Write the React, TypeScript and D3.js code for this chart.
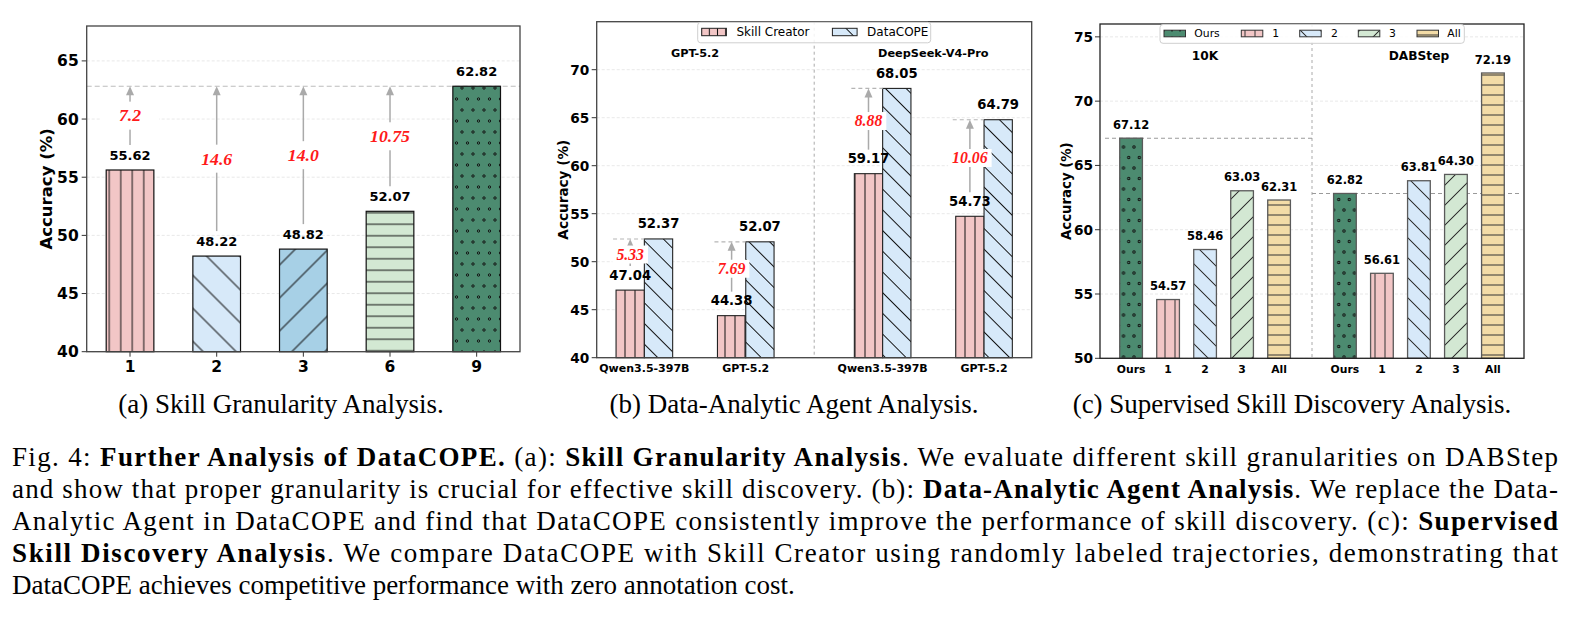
import React from 'react';
import * as d3 from 'd3';

// (a) skill granularity
const granularityLevels = ['1', '2', '3', '6', '9'];
const granularityAcc = [55.62, 48.22, 48.82, 52.07, 62.82];
const granularityGain = ['7.2', '14.6', '14.0', '10.75', ''];
const granularityTicks = [40, 45, 50, 55, 60, 65];

// (b) data-analytic agent
const agentGroups = ['GPT-5.2', 'DeepSeek-V4-Pro'];
const agentModels = ['Qwen3.5-397B', 'GPT-5.2', 'Qwen3.5-397B', 'GPT-5.2'];
const skillCreatorAcc = [47.04, 44.38, 59.17, 54.73];
const dataCopeAcc = [52.37, 52.07, 68.05, 64.79];
const agentGain = ['5.33', '7.69', '8.88', '10.06'];
const agentTicks = [40, 45, 50, 55, 60, 65, 70];
const agentSeries = ['Skill Creator', 'DataCOPE'];

// (c) supervised skill discovery
const supervisedGroups = ['10K', 'DABStep'];
const supervisedVariants = ['Ours', '1', '2', '3', 'All'];
const acc10K = [67.12, 54.57, 58.46, 63.03, 62.31];
const accDABStep = [62.82, 56.61, 63.81, 64.30, 72.19];
const supervisedTicks = [50, 55, 60, 65, 70, 75];

const subCaptions = [
  '(a) Skill Granularity Analysis.',
  '(b) Data-Analytic Agent Analysis.',
  '(c) Supervised Skill Discovery Analysis.',
];

// caption lines: [text, bold]
const captionLines: [string, boolean][][] = [
  [['Fig. 4: ', false], ['Further Analysis of DataCOPE.', true], [' (a): ', false], ['Skill Granularity Analysis', true], ['. We evaluate different skill granularities on DABStep', false]],
  [['and show that proper granularity is crucial for effective skill discovery. (b): ', false], ['Data-Analytic Agent Analysis', true], ['. We replace the Data-', false]],
  [['Analytic Agent in DataCOPE and find that DataCOPE consistently improve the performance of skill discovery. (c): ', false], ['Supervised', true]],
  [['Skill Discovery Analysis', true], ['. We compare DataCOPE with Skill Creator using randomly labeled trajectories, demonstrating that', false]],
  [['DataCOPE achieves competitive performance with zero annotation cost.', false]],
];

const SANS = 'DejaVu Sans, sans-serif';
const SERIF = 'Liberation Serif, Times New Roman, serif';

const PINK = '#f2c6c6';
const LIGHT_BLUE = '#d7e9f9';
const MID_BLUE = '#a7d0e6';
const LIGHT_GREEN = '#d3e8d3';
const DARK_GREEN = '#4c8b70';
const YELLOW = '#f3dca7';
const GAIN_RED = '#ff1a1a';
const ARROW_GRAY = '#aaaaaa';

type HatchKind = 'v' | 'h' | 'b' | 'f' | 'o';

const Patterns = ({ id, line, diag, dot, ink }: { id: string; line: number; diag: number; dot: number; ink: string }) => {
  const d = diag / Math.SQRT2;
  return (
    <>
      <pattern id={`${id}-v`} patternUnits="userSpaceOnUse" width={line} height={line}>
        <line x1={line / 2} y1={0} x2={line / 2} y2={line} stroke={ink} strokeWidth={1} />
      </pattern>
      <pattern id={`${id}-h`} patternUnits="userSpaceOnUse" width={line} height={line}>
        <line x1={0} y1={line / 2} x2={line} y2={line / 2} stroke={ink} strokeWidth={1} />
      </pattern>
      <pattern id={`${id}-b`} patternUnits="userSpaceOnUse" width={d} height={d} patternTransform="rotate(-45)">
        <line x1={d / 2} y1={-1} x2={d / 2} y2={d + 1} stroke={ink} strokeWidth={1} />
      </pattern>
      <pattern id={`${id}-f`} patternUnits="userSpaceOnUse" width={d} height={d} patternTransform="rotate(45)">
        <line x1={d / 2} y1={-1} x2={d / 2} y2={d + 1} stroke={ink} strokeWidth={1} />
      </pattern>
      <pattern id={`${id}-o`} patternUnits="userSpaceOnUse" width={dot} height={dot * 2}>
        {[[0, 0], [dot, 0], [dot / 2, dot], [0, dot * 2], [dot, dot * 2]].map(([cx, cy], i) => (
          <circle key={i} cx={cx} cy={cy} r={1.2} fill="none" stroke="#111" strokeWidth={1} />
        ))}
      </pattern>
    </>
  );
};

const Bar = ({ x, y, w, h, fill, hatch, edge, sw }: any) => (
  <g>
    <rect x={x} y={y} width={w} height={h} fill={fill} />
    <rect x={x} y={y} width={w} height={h} fill={`url(#${hatch})`} stroke={edge} strokeWidth={sw} />
  </g>
);

const Arrow = ({ x, y1, y2 }: { x: number; y1: number; y2: number }) => (
  <g>
    <line x1={x} y1={y1} x2={x} y2={y2 + 7} stroke={ARROW_GRAY} strokeWidth={1.5} />
    <path d={`M${x},${y2} L${x - 4},${y2 + 9} L${x + 4},${y2 + 9} Z`} fill={ARROW_GRAY} />
  </g>
);

const YAxis = ({ left, right, y, ticks, fs, gap }: any) => (
  <g>
    {ticks.map((t: number) => (
      <g key={t}>
        <line x1={left} x2={right} y1={y(t)} y2={y(t)} stroke="#e2e2e2" strokeWidth={0.8} strokeDasharray="3,2" />
        <line x1={left - 5} x2={left} y1={y(t)} y2={y(t)} stroke="#333" strokeWidth={1} />
        <text x={left - gap} y={y(t)} dy="0.36em" textAnchor="end" fontFamily={SANS} fontWeight="bold" fontSize={fs}>
          {t}
        </text>
      </g>
    ))}
  </g>
);

const YLabel = ({ x, y, fs }: any) => (
  <text transform={`translate(${x},${y}) rotate(-90)`} dy="0.36em" textAnchor="middle" fontFamily={SANS} fontWeight="bold" fontSize={fs}>
    Accuracy (%)
  </text>
);

const ChartA = () => {
  const box = { left: 86.7, right: 520, top: 26, bottom: 351.7 };
  const y = d3.scaleLinear().domain([40, 68]).range([box.bottom, box.top]);
  const x = d3.scaleBand().domain(granularityLevels).range([box.left, box.right]).paddingInner(0.45).paddingOuter(0.225);
  const fills = [PINK, LIGHT_BLUE, MID_BLUE, LIGHT_GREEN, DARK_GREEN];
  const hatches: HatchKind[] = ['v', 'b', 'f', 'h', 'o'];
  const best = d3.max(granularityAcc) as number;
  const bw = x.bandwidth();
  return (
    <g>
      <defs>
        <Patterns id="pa" line={11.5} diag={33} dot={11} ink="#111" />
      </defs>
      <YAxis left={box.left} right={box.right} y={y} ticks={granularityTicks} fs={15.5} gap={8} />
      <line x1={box.left} x2={box.right} y1={y(best)} y2={y(best)} stroke="#bdbdbd" strokeWidth={1.2} strokeDasharray="5,3" />
      {granularityLevels.map((g, i) => {
        const cx = (x(g) as number) + bw / 2;
        const v = granularityAcc[i];
        return (
          <g key={g}>
            <Bar x={x(g)} y={y(v)} w={bw} h={box.bottom - y(v)} fill={fills[i]} hatch={`pa-${hatches[i]}`} edge="#111" sw={1.2} />
            <text x={cx} y={y(v) - 14.5} dy="0.36em" textAnchor="middle" fontFamily={SANS} fontWeight="bold" fontSize={13}>
              {v.toFixed(2)}
            </text>
            <line x1={cx} x2={cx} y1={box.bottom} y2={box.bottom + 5} stroke="#333" />
            <text x={cx} y={366} dy="0.36em" textAnchor="middle" fontFamily={SANS} fontWeight="bold" fontSize={15.5}>
              {g}
            </text>
          </g>
        );
      })}
      {granularityLevels.map((g, i) => {
        if (!granularityGain[i]) return null;
        const cx = (x(g) as number) + bw / 2;
        const y1 = y(granularityAcc[i]) - 25;
        const y2 = y(best);
        const mid = (y1 + y2) / 2;
        const tw = granularityGain[i].length * 8.6 + 32;
        return (
          <g key={`gain-${g}`}>
            <Arrow x={cx} y1={y1} y2={y2} />
            <rect x={cx - tw / 2} y={mid - 14} width={tw} height={28} fill="#fff" />
            <text x={cx} y={mid} dy="0.33em" textAnchor="middle" fontFamily={SERIF} fontStyle="italic" fontWeight="bold" fontSize={17.7} fill={GAIN_RED}>
              {granularityGain[i]}
            </text>
          </g>
        );
      })}
      <rect x={box.left} y={box.top} width={box.right - box.left} height={box.bottom - box.top} fill="none" stroke="#444" strokeWidth={1.3} />
      <YLabel x={46} y={(box.top + box.bottom) / 2} fs={16.5} />
    </g>
  );
};

const ChartB = () => {
  const box = { left: 596.7, right: 1031.7, top: 21.7, bottom: 357.7 };
  const gap = 2.35;
  const y = d3.scaleLinear().domain([40, 75]).range([box.bottom, box.top]);
  const x = d3.scaleLinear().domain([-0.47, 1 + gap + 0.47]).range([box.left, box.right]);
  const bw = 28.3;
  const pos = agentModels.map((_, k) => Math.floor(k / 2) * gap + (k % 2));
  const sep = x((1 + gap) / 2);
  const legW = 233;
  const legX = sep - legW / 2;
  return (
    <g>
      <defs>
        <Patterns id="pb" line={10} diag={20.7} dot={10} ink="#111" />
        <pattern id="pb-lv" patternUnits="userSpaceOnUse" width={8.2} height={8}>
          <line x1={4.1} y1={0} x2={4.1} y2={8} stroke="#111" strokeWidth={1} />
        </pattern>
      </defs>
      <YAxis left={box.left} right={box.right} y={y} ticks={agentTicks} fs={13.7} gap={7.5} />
      <line x1={sep} x2={sep} y1={box.top} y2={box.bottom} stroke="#aaa" strokeWidth={1} strokeDasharray="3,3" />
      {pos.map((p, k) => {
        const cx = x(p);
        const sc = skillCreatorAcc[k];
        const dc = dataCopeAcc[k];
        return (
          <g key={k}>
            <Bar x={cx - bw} y={y(sc)} w={bw} h={box.bottom - y(sc)} fill={PINK} hatch="pb-v" edge="#222" sw={1.1} />
            <Bar x={cx} y={y(dc)} w={bw} h={box.bottom - y(dc)} fill={LIGHT_BLUE} hatch="pb-b" edge="#222" sw={1.1} />
            <line x1={cx - bw - 3} x2={cx} y1={y(dc)} y2={y(dc)} stroke="#b5b5b5" strokeWidth={1.1} strokeDasharray="4,3" />
            <text x={cx} y={368.3} dy="0.36em" textAnchor="middle" fontFamily={SANS} fontWeight="bold" fontSize={11}>
              {agentModels[k]}
            </text>
          </g>
        );
      })}
      {pos.map((p, k) => {
        const cx = x(p);
        const sc = skillCreatorAcc[k];
        const dc = dataCopeAcc[k];
        const y1 = y(sc) - 24;
        const y2 = y(dc);
        const mid = (y1 + y2) / 2 + 2;
        const tw = agentGain[k].length * 7.9 + 4;
        return (
          <g key={`g-${k}`}>
            <Arrow x={cx - bw / 2} y1={y1} y2={y2} />
            <rect x={cx - bw / 2 - tw / 2} y={mid - 9} width={tw} height={18} fill="#fff" />
            <text x={cx - bw / 2} y={mid} dy="0.33em" textAnchor="middle" fontFamily={SERIF} fontStyle="italic" fontWeight="bold" fontSize={15.8} fill={GAIN_RED}>
              {agentGain[k]}
            </text>
            <text x={cx - bw / 2} y={y(sc) - 15} dy="0.36em" textAnchor="middle" fontFamily={SANS} fontWeight="bold" fontSize={13.2}>
              {sc.toFixed(2)}
            </text>
            <text x={cx + bw / 2} y={y(dc) - 15.5} dy="0.36em" textAnchor="middle" fontFamily={SANS} fontWeight="bold" fontSize={13.2}>
              {dc.toFixed(2)}
            </text>
          </g>
        );
      })}
      {agentGroups.map((g, i) => (
        <text key={g} x={x(i * gap + 0.5)} y={52.7} dy="0.36em" textAnchor="middle" fontFamily={SANS} fontWeight="bold" fontSize={11.3}>
          {g}
        </text>
      ))}
      <rect x={box.left} y={box.top} width={box.right - box.left} height={box.bottom - box.top} fill="none" stroke="#444" strokeWidth={1.3} />
      <g>
        <rect x={legX} y={22.3} width={legW} height={20.5} rx={3} fill="#fff" fillOpacity={0.85} stroke="#cfcfcf" strokeWidth={1} />
        {agentSeries.map((s, i) => {
          const px = legX + 4 + i * 130.7;
          return (
            <g key={s}>
              <Bar x={px} y={28.3} w={24.7} h={7.4} fill={i === 0 ? PINK : LIGHT_BLUE} hatch={i === 0 ? 'pb-lv' : 'pb-b'} edge="#222" sw={1} />
              <text x={px + 34.7} y={32} dy="0.36em" fontFamily={SANS} fontSize={12}>
                {s}
              </text>
            </g>
          );
        })}
      </g>
      <YLabel x={562.7} y={(box.top + box.bottom) / 2} fs={13.6} />
    </g>
  );
};

const ChartC = () => {
  const box = { left: 1100, right: 1524, top: 24, bottom: 358.3 };
  const gap = 5.78;
  const n = supervisedVariants.length;
  const y = d3.scaleLinear().domain([50, 76]).range([box.bottom, box.top]);
  const x = d3.scaleLinear().domain([-0.84, n - 1 + gap + 0.84]).range([box.left, box.right]);
  const bw = 22.7;
  const sep = x((n - 1 + gap) / 2);
  const fills = [DARK_GREEN, PINK, LIGHT_BLUE, LIGHT_GREEN, YELLOW];
  const hatches: HatchKind[] = ['o', 'v', 'b', 'f', 'h'];
  const groups = [acc10K, accDABStep];
  const legX = sep - 152;
  const legPatch = [4, 81.3, 139.7, 198.3, 257];
  const legText = [34.3, 112.3, 171, 229, 287.3];
  return (
    <g>
      <defs>
        <Patterns id="pc" line={10} diag={20} dot={10.5} ink="#333" />
        <pattern id="pc-lo" patternUnits="userSpaceOnUse" width={8} height={7}>
          <circle cx={4} cy={2.5} r={1.1} fill="#111" />
        </pattern>
      </defs>
      <YAxis left={box.left} right={box.right} y={y} ticks={supervisedTicks} fs={13.7} gap={7} />
      <line x1={sep} x2={sep} y1={box.top} y2={box.bottom} stroke="#aaa" strokeWidth={1} strokeDasharray="3,3" />
      {groups.map((vals, g) => (
        <line
          key={`ref-${g}`}
          x1={g === 0 ? box.left + 5 : sep}
          x2={g === 0 ? sep : box.right - 3}
          y1={y(vals[0])}
          y2={y(vals[0])}
          stroke="#9a9a9a"
          strokeWidth={1.1}
          strokeDasharray="4,3"
        />
      ))}
      {groups.map((vals, g) =>
        vals.map((v, i) => {
          const cx = x(g * gap + i);
          return (
            <g key={`${g}-${i}`}>
              <Bar x={cx - bw / 2} y={y(v)} w={bw} h={box.bottom - y(v)} fill={fills[i]} hatch={`pc-${hatches[i]}`} edge="#5a5a5a" sw={1.3} />
              <text x={cx} y={y(v) - 13.5} dy="0.36em" textAnchor="middle" fontFamily={SANS} fontWeight="bold" fontSize={11.5}>
                {v.toFixed(2)}
              </text>
              <text x={cx} y={369.3} dy="0.36em" textAnchor="middle" fontFamily={SANS} fontWeight="bold" fontSize={10.8}>
                {supervisedVariants[i]}
              </text>
            </g>
          );
        })
      )}
      {supervisedGroups.map((g, i) => (
        <text key={g} x={x(i * gap + (n - 1) / 2)} y={55.7} dy="0.36em" textAnchor="middle" fontFamily={SANS} fontWeight="bold" fontSize={12.2}>
          {g}
        </text>
      ))}
      <rect x={box.left} y={box.top} width={box.right - box.left} height={box.bottom - box.top} fill="none" stroke="#222" strokeWidth={1.3} />
      <g>
        <rect x={legX} y={24.5} width={304.3} height={18.8} rx={3} fill="#fff" fillOpacity={0.85} stroke="#cfcfcf" strokeWidth={1} />
        {supervisedVariants.map((s, i) => (
          <g key={s}>
            <Bar x={legX + legPatch[i]} y={30.2} w={21.5} h={6.6} fill={fills[i]} hatch={i === 0 ? 'pc-lo' : `pc-${hatches[i]}`} edge="#333" sw={1} />
            <text x={legX + legText[i]} y={33.5} dy="0.36em" fontFamily={SANS} fontSize={10.8}>
              {s}
            </text>
          </g>
        ))}
      </g>
      <YLabel x={1066.7} y={(box.top + box.bottom) / 2} fs={13.3} />
    </g>
  );
};

const Caption = () => (
  <g fontFamily={SERIF} fontSize={27} fill="#000">
    {subCaptions.map((c, i) => (
      <text key={c} x={[281, 794, 1292][i]} y={413} textAnchor="middle">
        {c}
      </text>
    ))}
    {captionLines.map((segs, i) => (
      <text
        key={i}
        x={12}
        y={466 + i * 32}
        {...(i < captionLines.length - 1 ? { textLength: 1546, lengthAdjust: 'spacing' } : {})}
      >
        {segs.map(([t, b], j) => (
          <tspan key={j} fontWeight={b ? 'bold' : 'normal'}>
            {t}
          </tspan>
        ))}
      </text>
    ))}
  </g>
);

export default function App() {
  return (
    <svg width={1574} height={632} style={{ position: 'absolute', left: 0, top: 0, background: '#fff' }}>
      <rect width={1574} height={632} fill="#fff" />
      <ChartA />
      <ChartB />
      <ChartC />
      <Caption />
    </svg>
  );
}
